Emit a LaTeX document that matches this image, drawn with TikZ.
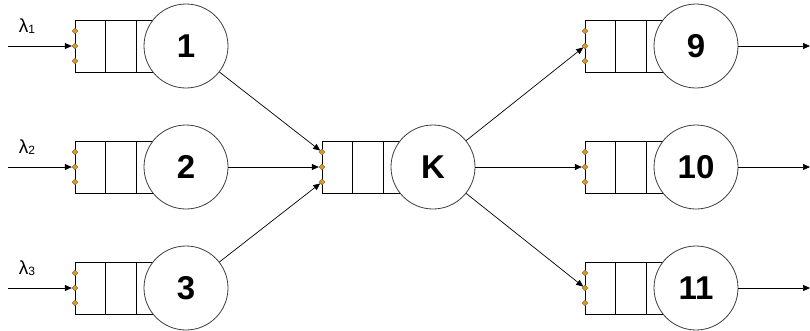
\documentclass[tikz,border=0pt]{standalone}
\usepackage{fontspec}
\setmainfont{Liberation Sans}
\usetikzlibrary{arrows.meta,positioning,shapes.geometric}
\definecolor{qOrange}{HTML}{D9992E}
\definecolor{qEdge}{HTML}{8A5A14}
\definecolor{qGrey}{HTML}{3C3C3C}
\tikzset{
  >={Triangle[length=7pt,width=6pt]},
  cell/.style={draw=black, line width=0.8pt, minimum width=30.5pt,
              minimum height=52pt, inner sep=0pt, outer sep=0pt},
  server/.style={circle, draw=qGrey, fill=white, line width=0.8pt,
              minimum size=84pt, inner sep=0pt,
              font=\fontsize{33}{33}\selectfont\bfseries},
  port/.style={diamond, draw=qEdge, fill=qOrange, minimum size=6pt,
              inner sep=0pt, line width=0.3pt},
  lam/.style={font=\fontsize{19}{19}\selectfont},
  flow/.style={->, line width=0.7pt},
}
\newcommand{\lsub}[1]{{\fontsize{12}{12}\selectfont\raisebox{-0.5pt}{#1}}}

\begin{document}
\begin{tikzpicture}[x=1pt,y=-1pt]
  \useasboundingbox (0,0) rectangle (810,330);
  % queues with their servers
  \foreach \n/\x/\y/\lab in {1/75/46/1,2/75/167/2,3/75/288/3,k/322/167/K,
                             9/585/46/9,10/585/167/10,11/585/288/11}{
    \node[cell,anchor=west] (qa\n) at (\x,\y) {};
    \node[cell,right=0pt of qa\n] (qb\n) {};
    \node[cell,right=0pt of qb\n] (qc\n) {};
    \node[server] (s\n) at (\x+111,\y) {\lab};
    \node[port] (pt\n) at (\x,\y-15) {};
    \node[port] (pm\n) at (\x,\y) {};
    \node[port] (pb\n) at (\x,\y+15) {};
  }
  % arrivals
  \foreach \n/\y in {1/46,2/167,3/288}{
    \coordinate (in\n) at (8,\y);
    \draw[flow] (in\n) -- (pm\n);
    \node[lam] (l\n) at (27,\y-20) {λ\lsub{\n}};
  }
  % into K
  \draw[flow] (s1) -- (ptk);
  \draw[flow] (s2) -- (pmk);
  \draw[flow] (s3) -- (pbk);
  % out of K and departures
  \foreach \n/\y in {9/46,10/167,11/288}{
    \draw[flow] (sk) -- (pm\n);
    \coordinate (out\n) at (810,\y);
    \draw[flow] (s\n) -- (out\n);
  }
\end{tikzpicture}
\end{document}
